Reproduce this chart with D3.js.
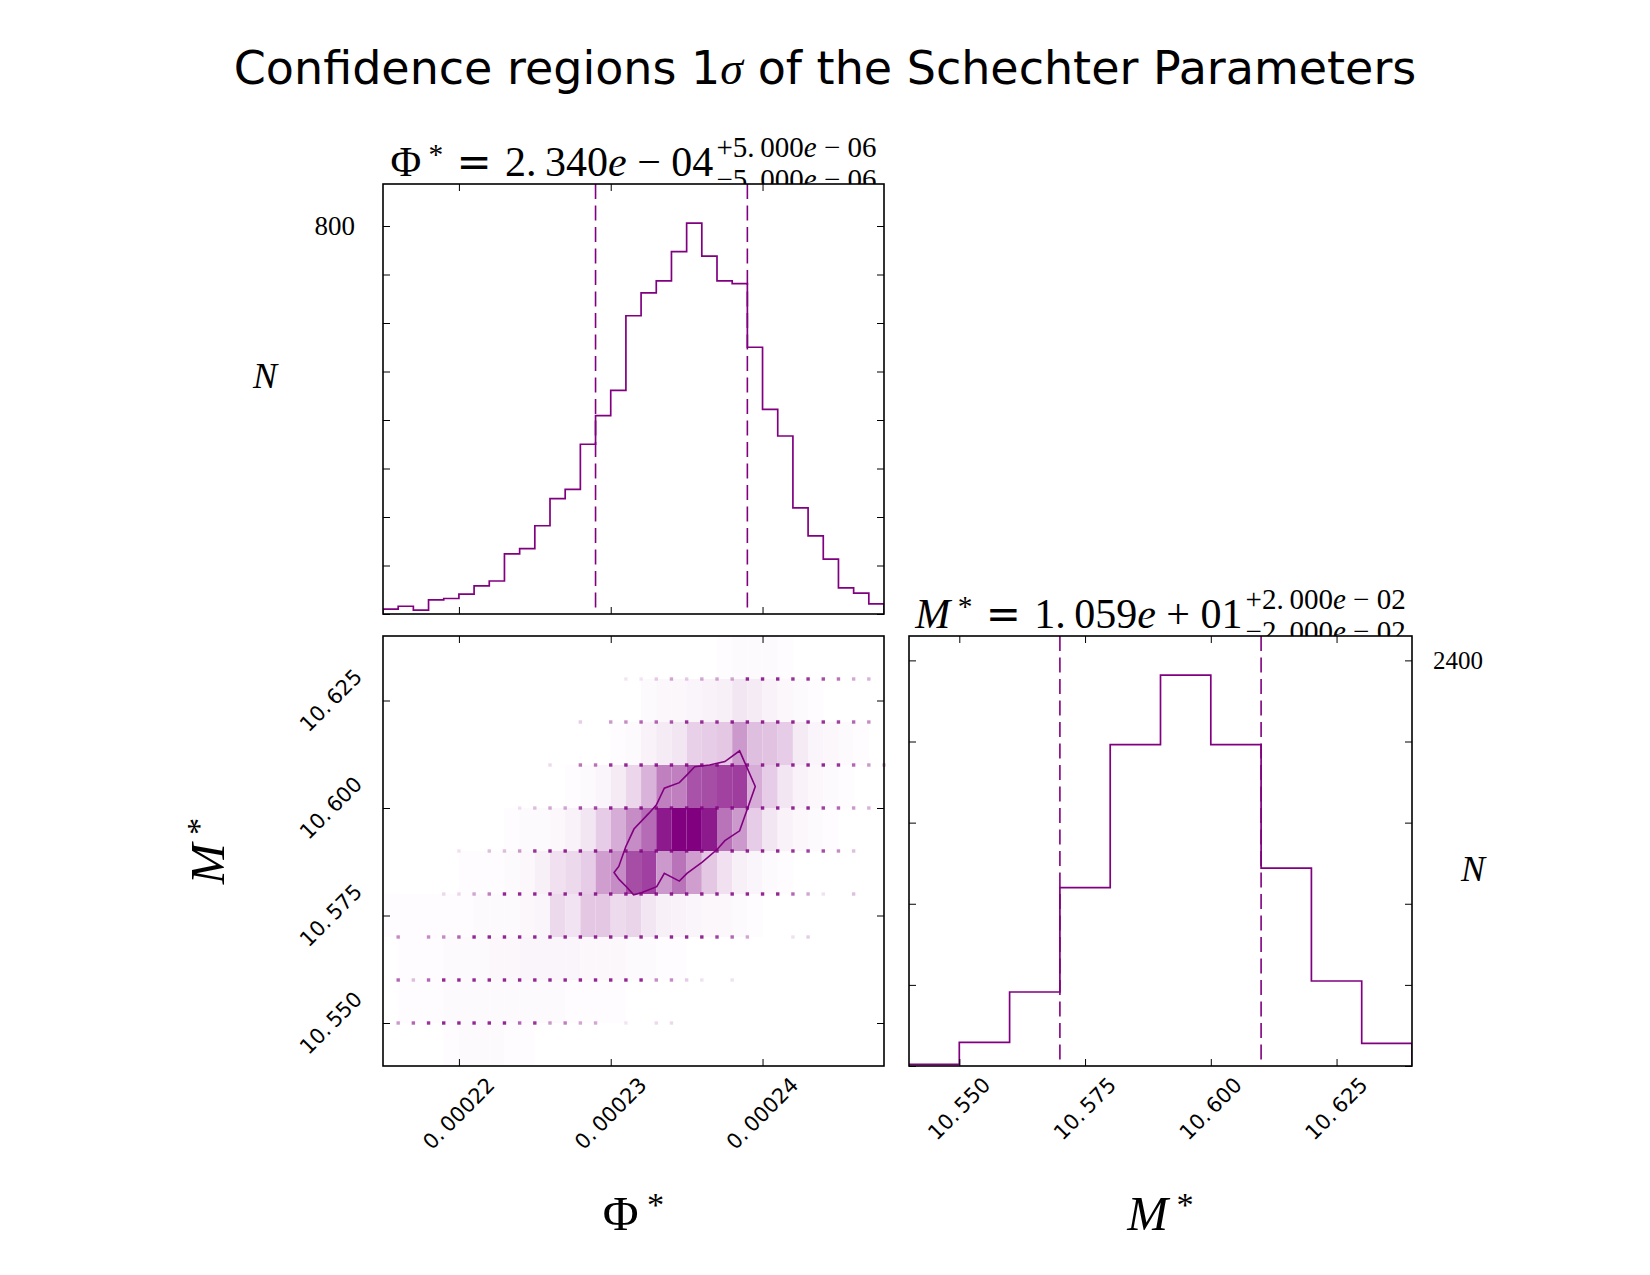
<!DOCTYPE html>
<html>
<head>
<meta charset="utf-8">
<script src="https://cdnjs.cloudflare.com/ajax/libs/d3/7.8.5/d3.min.js"></script>
<style>
body { margin: 0; background: #fff; }
</style>
</head>
<body>
<div id="chart"></div>
<script>
// ---- data ----
var phiBinStart = 0.000215, phiBinWidth = 0.000001;   // 33 bins
var phiCounts = [10, 16, 8, 29, 32, 41, 58, 68, 124, 135, 182, 238, 257, 350, 409, 461, 615,
                 662, 687, 747, 806, 738, 687, 681, 550, 422, 367, 219, 161, 113, 54, 43, 21];

var mBinStart = 10.54, mBinWidth = 0.01;               // 10 bins
var mCounts = [10, 140, 438, 1055, 1901, 2313, 1901, 1171, 503, 134];

var phiQuantiles = [0.000229, 0.000239];
var mQuantiles = [10.57, 10.61];

var phiTicks = [0.00022, 0.00023, 0.00024];
var mTicks = [10.55, 10.575, 10.60, 10.625];
var phiCountTicks = [0, 100, 200, 300, 400, 500, 600, 700, 800];
var mCountTicks = [0, 480, 960, 1440, 1920, 2400];
var phiCountLabel = 800, mCountLabel = 2400;

// 2d histogram shading, one row per M* bin (lower edge), one value per phi bin (0-100)
var shadeRowsM = [10.54, 10.55, 10.56, 10.57, 10.58, 10.59, 10.60, 10.61, 10.62, 10.63];
var shade = [
  [0,0,0,0,1,2,2,2,1,1,0,0,0,0,0,0,0,0,0,0,0,0,0,0,0,0,0,0,0,0,0,0,0],
  [0,1,1,1,2,2,2,2,2,2,2,2,1,1,1,1,0,0,0,0,0,0,0,0,0,0,0,0,0,0,0,0,0],
  [0,1,1,1,2,2,2,3,3,4,4,4,4,3,3,3,2,2,1,1,0,0,0,0,0,0,0,0,0,0,0,0,0],
  [1,1,1,1,1,1,2,2,2,3,4,15,11,22,22,14,17,10,6,5,4,3,3,2,1,0,0,0,0,0,0,0,0],
  [0,0,0,0,0,1,1,1,2,3,6,12,15,20,38,45,70,75,40,55,38,22,12,6,4,2,1,0,0,0,0,0,0],
  [0,0,0,0,0,0,0,0,1,2,2,3,5,10,20,32,45,58,90,100,100,90,55,40,20,10,5,3,2,1,0,0,0],
  [0,0,0,0,0,0,0,0,0,0,0,0,1,2,4,8,16,30,50,50,68,70,74,76,32,20,10,5,3,2,1,0,0],
  [0,0,0,0,0,0,0,0,0,0,0,0,0,0,0,1,2,5,8,10,18,20,22,40,25,24,20,8,4,3,2,1,0],
  [0,0,0,0,0,0,0,0,0,0,0,0,0,0,0,0,0,2,3,3,4,5,6,10,8,5,3,2,1,0,0,0,0],
  [0,0,0,0,0,0,0,0,0,0,0,0,0,0,0,0,0,0,0,0,0,0,1,2,2,2,1,0,0,0,0,0,0]
];

// sample points on the (phi, M*) grid, opacity 0-100, one value per phi grid point
var dotRowsM = [10.55, 10.56, 10.57, 10.58, 10.59, 10.60, 10.61, 10.62, 10.63];
var dots = [
  [0,40,60,80,85,85,85,85,85,60,80,40,50,35,35,0,10,0,15,15,0,0,0,0,0,0,0,0,0,0,0,0,0,0],
  [0,60,25,60,85,85,85,85,85,85,85,85,85,85,85,85,85,85,45,45,20,12,0,12,0,0,0,0,0,0,0,0,0,0],
  [0,45,0,45,45,60,85,85,85,85,85,85,85,85,85,85,85,85,85,85,85,85,75,60,35,0,0,12,20,0,0,0,0,0],
  [0,0,0,0,15,15,35,50,85,85,85,85,85,85,85,85,85,85,85,85,85,85,85,85,85,85,85,60,35,12,0,25,0,0],
  [0,0,0,0,0,12,0,25,25,40,80,85,85,85,85,85,85,85,85,85,85,85,85,85,85,85,85,80,75,70,45,25,0,0],
  [0,0,0,0,0,0,0,0,0,12,25,35,35,70,70,85,85,85,85,85,85,85,85,85,85,85,85,85,85,75,60,40,30,0],
  [0,0,0,0,0,0,0,0,0,0,0,15,0,55,55,80,85,85,85,85,85,85,85,85,85,85,85,85,85,85,80,60,40,30],
  [0,0,0,0,0,0,0,0,0,0,0,0,0,20,0,40,45,60,60,65,80,80,80,85,85,85,85,85,85,80,75,60,45,0],
  [0,0,0,0,0,0,0,0,0,0,0,0,0,0,0,0,10,10,20,35,20,35,35,35,85,85,85,80,80,70,55,35,30,0]
];

// 1 sigma contour, [phi, M*]
var contour = [
  [0.00023849, 10.6133], [0.00023952, 10.6050], [0.00023901, 10.5999], [0.00023849, 10.5947],
  [0.00023752, 10.5924], [0.00023702, 10.5904], [0.00023603, 10.5874], [0.00023502, 10.5848],
  [0.00023452, 10.5830], [0.00023353, 10.5848], [0.00023303, 10.5817], [0.00023202, 10.5803],
  [0.00023151, 10.5798], [0.00023103, 10.5817], [0.00023055, 10.5834], [0.00023022, 10.5850],
  [0.00023053, 10.5864], [0.00023099, 10.5910], [0.00023153, 10.5951], [0.00023252, 10.5988],
  [0.00023300, 10.6007], [0.00023353, 10.6046], [0.00023452, 10.6059], [0.00023502, 10.6077],
  [0.00023553, 10.6096], [0.00023651, 10.6100], [0.00023752, 10.6108]
];

var figTitle = ["Confidence regions 1", "σ", " of the Schechter Parameters"];
var phiTitle = {val: "2.340", exp: "04", sign: "−", up: "5.000", upExp: "06", lo: "5.000", loExp: "06"};
var mTitle = {val: "1.059", exp: "01", sign: "+", up: "2.000", upExp: "02", lo: "2.000", loExp: "02"};

// ---- layout ----
var W = 1650, H = 1275;
var purple = "#800080";
var serif = "'Liberation Serif', 'DejaVu Serif', serif";
var sans = "'DejaVu Sans', sans-serif";
var thin = "\u2009";

var pTL = {x: 383, y: 184, w: 501, h: 430};
var pBL = {x: 383, y: 636, w: 501, h: 430};
var pBR = {x: 909, y: 636, w: 503, h: 430};

var phiEdges = d3.range(phiCounts.length + 1).map(function(i) { return phiBinStart + i * phiBinWidth; });
var mEdges = d3.range(mCounts.length + 1).map(function(i) { return mBinStart + i * mBinWidth; });

var xPhi = d3.scaleLinear().domain([phiEdges[0], phiEdges[phiEdges.length - 1]]).range([pTL.x, pTL.x + pTL.w]);
var yPhiN = d3.scaleLinear().domain([0, d3.max(phiCounts) * 1.1]).range([pTL.y + pTL.h, pTL.y]);
var yM = d3.scaleLinear().domain([mEdges[0], mEdges[mEdges.length - 1]]).range([pBL.y + pBL.h, pBL.y]);
var xM = d3.scaleLinear().domain([mEdges[0], mEdges[mEdges.length - 1]]).range([pBR.x, pBR.x + pBR.w]);
var yMN = d3.scaleLinear().domain([0, d3.max(mCounts) * 1.1]).range([pBR.y + pBR.h, pBR.y]);
var shadeColor = d3.interpolateRgb("#ffffff", purple);

var svg = d3.select("#chart").append("svg")
    .attr("width", W)
    .attr("height", H);

svg.append("rect").attr("width", W).attr("height", H).attr("fill", "#fff");

// figure title
var ft = svg.append("text")
    .attr("x", W / 2).attr("y", 84)
    .attr("text-anchor", "middle")
    .style("font-family", sans).style("font-size", "46px");
ft.append("tspan").text(figTitle[0]);
ft.append("tspan").style("font-family", serif).style("font-style", "italic").text(figTitle[1]);
ft.append("tspan").text(figTitle[2]);

// math-ish text helper: parts = [text, kind]
function addParts(t, parts) {
    parts.forEach(function(p) {
        var s = t.append("tspan").text(p[0]);
        if (p[1] == "i") s.style("font-style", "italic");
        if (p[1] == "*") s.attr("dy", "-0.42em").style("font-size", "0.7em");
        if (p[1] == "s") s.attr("dy", "0.3em").style("font-family", sans);   // back to baseline after star
    });
    return t;
}

function numParts(v) { return v.replace(".", "." + thin); }

function panelTitle(p, sym, symItalic, o) {
    var cx = p.x + p.w / 2;
    var g = svg.append("g").style("font-family", serif);
    var main = addParts(g.append("text").attr("y", p.y - 8).style("font-size", "42px"), [
        [sym, symItalic ? "i" : ""], [" *", "*"], ["  =  ", "s"],
        [numParts(o.val), ""], ["e", "i"], [" " + o.sign + " " + o.exp, ""]
    ]);
    var sup = addParts(g.append("text").attr("y", p.y - 27).style("font-size", "29px"), [
        ["+" + numParts(o.up), ""], ["e", "i"], [" − " + o.upExp, ""]
    ]);
    var sub = addParts(g.append("text").attr("y", p.y + 5).style("font-size", "29px"), [
        ["−" + numParts(o.lo), ""], ["e", "i"], [" − " + o.loExp, ""]
    ]);
    var wMain = main.node().getComputedTextLength();
    var wScr = Math.max(sup.node().getComputedTextLength(), sub.node().getComputedTextLength());
    var x0 = cx - (wMain + 3 + wScr) / 2;
    main.attr("x", x0);
    sup.attr("x", x0 + wMain + 3);
    sub.attr("x", x0 + wMain + 3);
}

panelTitle(pTL, "Φ", false, phiTitle);
panelTitle(pBR, "M", true, mTitle);

// panels
function panel(p, id) {
    var g = svg.append("g");
    g.append("rect").attr("x", p.x).attr("y", p.y).attr("width", p.w).attr("height", p.h).attr("fill", "#fff");
    svg.append("clipPath").attr("id", id).append("rect")
        .attr("x", p.x).attr("y", p.y).attr("width", p.w).attr("height", p.h);
    return g;
}

function ticks(g, p, xs, xv, ys, yv) {
    var st = function(a) {
        a.select(".domain").remove();
        a.selectAll("line").attr("stroke", "#000").attr("stroke-width", 1);
    };
    g.append("g").attr("transform", "translate(0," + (p.y + p.h) + ")")
        .call(d3.axisBottom(xs).tickValues(xv).tickSize(-7).tickFormat("")).call(st);
    g.append("g").attr("transform", "translate(0," + p.y + ")")
        .call(d3.axisTop(xs).tickValues(xv).tickSize(-7).tickFormat("")).call(st);
    g.append("g").attr("transform", "translate(" + p.x + ",0)")
        .call(d3.axisLeft(ys).tickValues(yv).tickSize(-7).tickFormat("")).call(st);
    g.append("g").attr("transform", "translate(" + (p.x + p.w) + ",0)")
        .call(d3.axisRight(ys).tickValues(yv).tickSize(-7).tickFormat("")).call(st);
    g.append("rect").attr("x", p.x).attr("y", p.y).attr("width", p.w).attr("height", p.h)
        .attr("fill", "none").attr("stroke", "#000").attr("stroke-width", 1.6);
}

function stepPath(edges, counts, xs, ys) {
    var pts = [[edges[0], 0]];
    counts.forEach(function(c, i) { pts.push([edges[i], c]); });
    pts.push([edges[edges.length - 1], counts[counts.length - 1]]);
    pts.push([edges[edges.length - 1], 0]);
    return d3.line().x(function(d) { return xs(d[0]); }).y(function(d) { return ys(d[1]); })
        .curve(d3.curveStepAfter)(pts);
}

// top-left: phi histogram
var gTL = panel(pTL, "clipTL");
var cTL = gTL.append("g").attr("clip-path", "url(#clipTL)");
cTL.append("path").attr("d", stepPath(phiEdges, phiCounts, xPhi, yPhiN))
    .attr("fill", "none").attr("stroke", purple).attr("stroke-width", 1.7);
cTL.selectAll("line.q").data(phiQuantiles).enter().append("line")
    .attr("x1", function(d) { return xPhi(d); }).attr("x2", function(d) { return xPhi(d); })
    .attr("y1", pTL.y).attr("y2", pTL.y + pTL.h)
    .attr("stroke", purple).attr("stroke-width", 1.6).attr("stroke-dasharray", "15,6.5");
ticks(gTL, pTL, xPhi, phiTicks, yPhiN, phiCountTicks);

// bottom-left: 2d histogram
var gBL = panel(pBL, "clipBL");
var cBL = gBL.append("g").attr("clip-path", "url(#clipBL)");
shade.forEach(function(row, r) {
    row.forEach(function(v, i) {
        if (v <= 0) return;
        cBL.append("rect")
            .attr("x", xPhi(phiEdges[i]))
            .attr("width", xPhi(phiEdges[i + 1]) - xPhi(phiEdges[i]))
            .attr("y", yM(shadeRowsM[r] + mBinWidth))
            .attr("height", yM(shadeRowsM[r]) - yM(shadeRowsM[r] + mBinWidth))
            .attr("fill", shadeColor(v / 100));
    });
});
var gDots = gBL.append("g");
dots.forEach(function(row, r) {
    row.forEach(function(v, i) {
        if (v <= 0) return;
        gDots.append("rect")
            .attr("x", xPhi(phiBinStart + i * phiBinWidth) - 1.7)
            .attr("y", yM(dotRowsM[r]) - 1.7)
            .attr("width", 3.4).attr("height", 3.4)
            .attr("fill", purple).attr("fill-opacity", v / 100);
    });
});
gBL.append("path")
    .attr("d", d3.line().x(function(d) { return xPhi(d[0]); }).y(function(d) { return yM(d[1]); })
        .curve(d3.curveLinearClosed)(contour))
    .attr("fill", "none").attr("stroke", purple).attr("stroke-width", 1.6);
ticks(gBL, pBL, xPhi, phiTicks, yM, mTicks);

// bottom-right: M* histogram
var gBR = panel(pBR, "clipBR");
var cBR = gBR.append("g").attr("clip-path", "url(#clipBR)");
cBR.append("path").attr("d", stepPath(mEdges, mCounts, xM, yMN))
    .attr("fill", "none").attr("stroke", purple).attr("stroke-width", 1.7);
cBR.selectAll("line.q").data(mQuantiles).enter().append("line")
    .attr("x1", function(d) { return xM(d); }).attr("x2", function(d) { return xM(d); })
    .attr("y1", pBR.y).attr("y2", pBR.y + pBR.h)
    .attr("stroke", purple).attr("stroke-width", 1.6).attr("stroke-dasharray", "15,6.5");
ticks(gBR, pBR, xM, mTicks, yMN, mCountTicks);

// rotated tick labels
var tickFs = 21;
function rotLabel(x, y, txt, side) {
    var t = svg.append("text")
        .style("font-family", sans).style("font-size", tickFs + "px")
        .attr("text-anchor", "middle").attr("dominant-baseline", "central")
        .text(txt);
    var w = t.node().getComputedTextLength();
    var half = (w + tickFs * 0.73) * Math.SQRT1_2 / 2;
    if (side == "bottom") t.attr("transform", "translate(" + x + "," + (y + 10 + half) + ") rotate(-45)");
    else t.attr("transform", "translate(" + (x - 19 - half) + "," + y + ") rotate(-45)");
}
var fmtPhi = d3.format(".5f"), fmtM = d3.format(".3f");
phiTicks.forEach(function(d) { rotLabel(xPhi(d), pBL.y + pBL.h, numParts(fmtPhi(d)), "bottom"); });
mTicks.forEach(function(d) { rotLabel(xM(d), pBR.y + pBR.h, numParts(fmtM(d)), "bottom"); });
mTicks.forEach(function(d) { rotLabel(pBL.x, yM(d), numParts(fmtM(d)), "left"); });

// count labels
svg.append("text").attr("x", pTL.x - 28).attr("y", yPhiN(phiCountLabel))
    .attr("text-anchor", "end").attr("dominant-baseline", "central")
    .style("font-family", serif).style("font-size", "27px").text(phiCountLabel);
svg.append("text").attr("x", pBR.x + pBR.w + 21).attr("y", yMN(mCountLabel))
    .attr("text-anchor", "start").attr("dominant-baseline", "central")
    .style("font-family", serif).style("font-size", "25px").text(mCountLabel);

// N labels
svg.append("text").attr("x", 265).attr("y", 388).attr("text-anchor", "middle")
    .style("font-family", serif).style("font-style", "italic").style("font-size", "36px").text("N");
svg.append("text").attr("x", 1473).attr("y", 881).attr("text-anchor", "middle")
    .style("font-family", serif).style("font-style", "italic").style("font-size", "36px").text("N");

// axis labels
function axisLabel(x, y, sym, italic, rot) {
    var t = svg.append("text").attr("text-anchor", "middle")
        .style("font-family", serif).style("font-size", "49px");
    if (rot) t.attr("transform", "translate(" + x + "," + y + ") rotate(-90)");
    else t.attr("x", x).attr("y", y);
    var s = t.append("tspan").text(sym);
    if (italic) s.style("font-style", "italic");
    t.append("tspan").attr("dy", "-0.42em").style("font-size", "0.7em").text(" *");
}
axisLabel(pBL.x + pBL.w / 2, 1230, "Φ", false, false);
axisLabel(pBR.x + pBR.w / 2, 1230, "M", true, false);
axisLabel(224, pBL.y + pBL.h / 2, "M", true, true);
</script>
</body>
</html>
